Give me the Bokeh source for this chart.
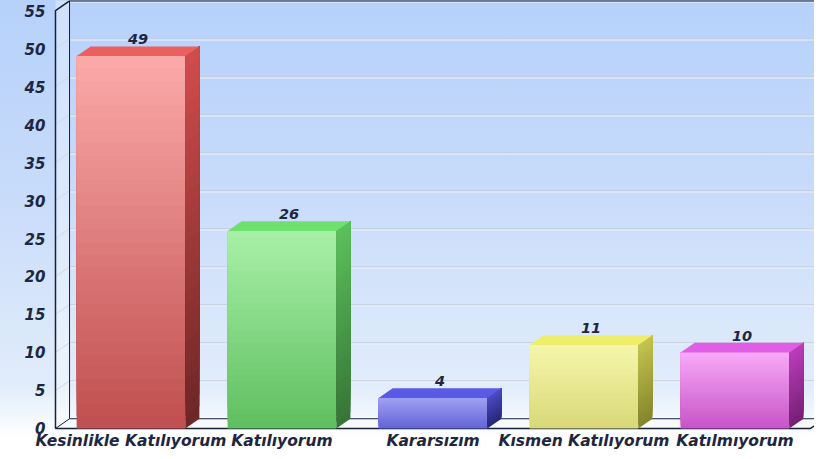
from bokeh.plotting import figure
from bokeh.models import Range1d
from bokeh.core.properties import value
from bokeh.embed import file_html
from bokeh.resources import INLINE

# ---- data ----
categories = ["Kesinlikle Katılıyorum", "Katılıyorum", "Kararsızım", "Kısmen Katılıyorum", "Katılmıyorum"]
counts = [49, 26, 4, 11, 10]
y_ticks = [0, 5, 10, 15, 20, 25, 30, 35, 40, 45, 50, 55]

# ---- styles ----
front_top = ["#fcaaaa", "#a8f0a8", "#a0a0f2", "#f6f6ac", "#f8aaf8"]
front_bot = ["#c04e4e", "#5fbf5f", "#6464d6", "#d8d878", "#c654c6"]
top_col = ["#ec5f5f", "#6ee06e", "#5a5ae6", "#eeee6c", "#e05ee6"]
side_top = ["#d24c4c", "#5cc05c", "#4c4cc4", "#c4c44e", "#bc3cbc"]
side_bot = ["#6c2626", "#367436", "#262678", "#84842c", "#742074"]
TXT = "#1e2640"
FONT = "DejaVu Sans"
BW = 0.72      # bar width (category units)
DX = 0.093     # depth offset x (category units)
DY = 1.28      # depth offset y (value units)
NB = 30        # gradient bands
X0 = -0.5      # front wall (value axis) position
XL, XRNG = -0.8642, 4.5265   # visible x range (whole canvas)
XR = 4.5       # right end of front floor
YTOP, YBOT = 56.32, -3.03
CAT_Y = -0.5   # top of category labels (value units, below the floor)
TICK_X = -0.567  # right edge of value-axis labels


def hexrgb(h):
    h = h.lstrip("#")
    return tuple(int(h[i:i + 2], 16) for i in (0, 2, 4))


def mix(a, b, t):
    ra, rb = hexrgb(a), hexrgb(b)
    return "#%02x%02x%02x" % tuple(int(round(ra[i] + (rb[i] - ra[i]) * t)) for i in range(3))


p = figure(width=814, height=451, output_backend="svg", toolbar_location=None,
           x_range=Range1d(XL, XRNG), y_range=Range1d(YBOT, YTOP),
           min_border_left=0, min_border_right=0, min_border_top=0, min_border_bottom=0,
           background_fill_color=None, border_fill_color=None,
           styles={"background": "linear-gradient(to bottom, #b6d1fa 0%, #c9dcfa 45%, #e2edfb 86%, #ffffff 97%)"})
p.outline_line_color = None
p.xgrid.visible = False
p.ygrid.visible = False
p.xaxis.visible = False
p.yaxis.visible = False

# left wall
p.patch([X0, X0 + DX, X0 + DX, X0], [0, DY, YTOP + 2, YTOP + 2], fill_color="#ffffff", fill_alpha=0.35, line_color=None)
# floor
p.patch([X0, XR, XR + DX, XRNG + 1, X0 + DX], [0, 0, DY, DY, DY], fill_color="#f7f8fb", line_color=None)

# back-wall gridlines and left-wall diagonals
gy = [t + DY for t in y_ticks[1:]]
n = len(gy)
p.segment(x0=[X0 + DX] * n, y0=gy, x1=[XRNG + 1] * n, y1=gy, line_color="#c2ccda", line_width=1)
p.segment(x0=[X0 + DX] * n, y0=[g - 0.16 for g in gy], x1=[XRNG + 1] * n, y1=[g - 0.16 for g in gy],
          line_color="#eef3fc", line_width=1)
p.segment(x0=[X0] * n, y0=y_ticks[1:], x1=[X0 + DX] * n, y1=gy, line_color="#d0d8e6", line_width=1)

# frame lines
p.line([X0, X0, X0 + DX, XRNG + 1], [0, 55, 55 + DY, 55 + DY], line_color="#16213a", line_width=1.5)
p.line([X0 + DX, X0 + DX], [DY, 55 + DY], line_color="#16213a", line_width=1)
p.line([X0, X0 + DX, XRNG + 1], [0, DY, DY], line_color="#16213a", line_width=1)
p.line([X0, XR, XR + DX], [0, 0, DY], line_color="#16213a", line_width=1.5)

# bars
for i, v in enumerate(counts):
    xl, xr = i - BW / 2, i + BW / 2
    fl, fr, fb, ft, fc = [], [], [], [], []
    sxs, sys, sc = [], [], []
    for k in range(NB):
        y0 = v * k / NB
        t = (k + 0.5) / NB
        fl.append(xl); fr.append(xr); fb.append(y0); ft.append(v)
        fc.append(mix(front_bot[i], front_top[i], t))
        sxs.append([xr, xr + DX, xr + DX, xr])
        sys.append([y0, y0 + DY, v + DY, v])
        sc.append(mix(side_bot[i], side_top[i], t))
    p.quad(left=fl, right=fr, bottom=fb, top=ft, fill_color=fc, line_color=None)
    p.patches(sxs, sys, fill_color=sc, line_color=None)
    p.patch([xl, xr, xr + DX, xl + DX], [v, v, v + DY, v + DY], fill_color=top_col[i], line_color=None)

# value labels
p.text(x=[i + DX / 2 for i in range(len(counts))], y=[v + DY for v in counts],
       text=[str(v) for v in counts], text_align="center", text_baseline="bottom",
       y_offset=-2, text_font=value(FONT), text_font_style="bold italic",
       text_font_size="14.5px", text_color=TXT)

# category labels (below the floor)
p.text(x=list(range(len(categories))), y=[CAT_Y] * len(categories), text=categories,
       text_align="center", text_baseline="top", text_font=value(FONT),
       text_font_style="bold italic", text_font_size="15.5px", text_color=TXT)

# value-axis tick labels
p.text(x=[TICK_X] * len(y_ticks), y=y_ticks, text=[str(t) for t in y_ticks],
       text_align="right", text_baseline="middle", text_font=value(FONT),
       text_font_style="bold italic", text_font_size="15px", text_color=TXT)

open("out.html", "w").write(file_html(p, INLINE))
